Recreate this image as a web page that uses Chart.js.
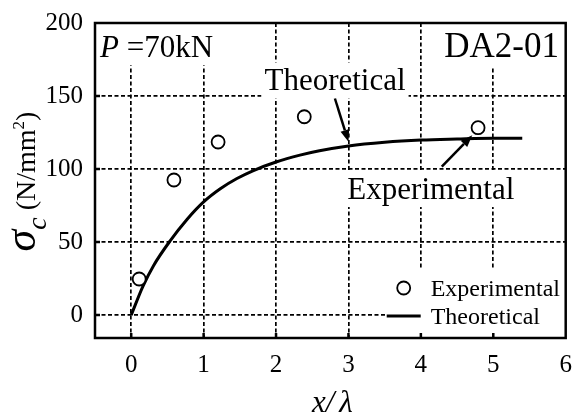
<!DOCTYPE html>
<html><head><meta charset="utf-8">
<script src="https://cdn.jsdelivr.net/npm/chart.js@4/dist/chart.umd.min.js"></script>
<style>html,body{margin:0;padding:0;background:#fff;}#wrap{width:574px;height:416px;}</style>
</head><body><div id="wrap"><canvas id="c" width="574" height="416"></canvas></div>
<script>
// ---- data ----
const expX = [0.11, 0.59, 1.2, 2.39, 4.79];
const expY = [24.7, 92.5, 118.5, 135.8, 128.3];
const theoX = [0, 0.16, 0.31, 0.54, 0.77, 1.0, 1.23, 1.46, 1.68, 2.0, 2.33, 2.6, 3.0, 3.5, 4.0, 4.5, 5.0, 5.4];
const theoY = [0, 19.5, 34, 51, 65.5, 77.5, 86.5, 93.5, 98.8, 104.8, 109.5, 112.5, 115.8, 118.3, 119.8, 120.5, 121, 121];
const xTicks = [0, 1, 2, 3, 4, 5, 6];
const yTicks = [0, 50, 100, 150, 200];
const seriesNames = ['Experimental', 'Theoretical'];
const noteP = 'P', noteLoad = ' =70kN', noteSpec = 'DA2-01';

const SERIF = '"Liberation Serif", "Times New Roman", serif';
const toPts = (xs, ys) => xs.map((x, i) => ({x, y: ys[i]}));

const notes = [
  {parts: [[noteP, 'italic'], [noteLoad, '']], x: -0.43, y: 176.5, size: 31, align: 'left', box: 'topleft'},
  {parts: [[noteSpec, '']], x: 5.906, y: 176.5, size: 35, align: 'right', box: 'topright'},
  {parts: [[seriesNames[1], '']], x: 1.84, y: 153.9, size: 31, align: 'left'},
  {parts: [[seriesNames[0], '']], x: 2.985, y: 79.5, size: 31, align: 'left'}
];
const arrows = [
  {from: [2.813, 148.3], to: [3.0, 118.6]},
  {from: [4.289, 101.6], to: [4.71, 123.2]}
];

function partsWidth(ctx, parts, size) {
  let w = 0;
  parts.forEach(([t, st]) => { ctx.font = `${st} ${size}px ${SERIF}`; w += ctx.measureText(t).width; });
  return w;
}
function drawParts(ctx, parts, x, y, size) {
  ctx.textAlign = 'left'; ctx.textBaseline = 'alphabetic';
  parts.forEach(([t, st]) => { ctx.font = `${st} ${size}px ${SERIF}`; ctx.fillText(t, x, y); x += ctx.measureText(t).width; });
}

const deco = {
  id: 'deco',
  beforeDatasetsDraw(chart) {
    const {ctx, chartArea: a, scales: {x, y}} = chart;
    ctx.save();
    ctx.fillStyle = '#fff';
    notes.forEach(n => {
      const w = partsWidth(ctx, n.parts, n.size);
      const px = x.getPixelForValue(n.x), py = y.getPixelForValue(n.y);
      let l = n.align === 'right' ? px - w : px;
      let r = l + w;
      let t = py - n.size * 0.9, b = py + n.size * 0.26;
      l -= 3; r += 3;
      if (n.box === 'topleft') { l = a.left; t = a.top; }
      if (n.box === 'topright') { r = a.right; t = a.top; }
      ctx.fillRect(l, t, r - l, b - t);
    });
    // legend background
    const lx = a.right - 135;
    ctx.fillRect(lx - 45, a.bottom - 68, a.right - (lx - 45), 68);
    ctx.restore();
  },
  afterDatasetsDraw(chart) {
    const {ctx, chartArea: a, scales: {x, y}} = chart;
    ctx.save();
    ctx.fillStyle = '#000'; ctx.strokeStyle = '#000';
    // inside ticks
    ctx.lineWidth = 2.5;
    ctx.beginPath();
    xTicks.forEach(v => { if (v < 6) { const p = x.getPixelForValue(v); ctx.moveTo(p, a.bottom); ctx.lineTo(p, a.bottom - 5); } });
    yTicks.forEach(v => { if (v < 200) { const p = y.getPixelForValue(v); ctx.moveTo(a.left, p); ctx.lineTo(a.left + 5, p); } });
    ctx.stroke();
    // frame
    ctx.lineWidth = 2.5;
    ctx.strokeRect(a.left, a.top, a.right - a.left, a.bottom - a.top);
    // notes
    notes.forEach(n => {
      const w = partsWidth(ctx, n.parts, n.size);
      const px = x.getPixelForValue(n.x), py = y.getPixelForValue(n.y);
      drawParts(ctx, n.parts, n.align === 'right' ? px - w : px, py, n.size);
    });
    // arrows
    arrows.forEach(ar => {
      const x0 = x.getPixelForValue(ar.from[0]), y0 = y.getPixelForValue(ar.from[1]);
      const x1 = x.getPixelForValue(ar.to[0]), y1 = y.getPixelForValue(ar.to[1]);
      const ang = Math.atan2(y1 - y0, x1 - x0), hl = 12, hw = 4.5;
      const bx = x1 - hl * Math.cos(ang), by = y1 - hl * Math.sin(ang);
      ctx.lineWidth = 2.5;
      ctx.beginPath(); ctx.moveTo(x0, y0); ctx.lineTo(bx, by); ctx.stroke();
      ctx.beginPath(); ctx.moveTo(x1, y1);
      ctx.lineTo(bx + hw * Math.sin(ang), by - hw * Math.cos(ang));
      ctx.lineTo(bx - hw * Math.sin(ang), by + hw * Math.cos(ang));
      ctx.closePath(); ctx.fill();
    });
    // legend
    const ds = chart.data.datasets;
    const lx = a.right - 135, r1 = a.bottom - 42, r2 = a.bottom - 14;
    ctx.lineWidth = ds[0].borderWidth; ctx.fillStyle = '#fff';
    ctx.beginPath(); ctx.arc(lx - 27, r1 - 8, ds[0].pointRadius, 0, Math.PI * 2); ctx.fill(); ctx.stroke();
    ctx.lineWidth = ds[1].borderWidth;
    ctx.beginPath(); ctx.moveTo(lx - 44, r2 - 8); ctx.lineTo(lx - 10, r2 - 8); ctx.stroke();
    ctx.fillStyle = '#000';
    drawParts(ctx, [[ds[0].label, '']], lx, r1, 24);
    drawParts(ctx, [[ds[1].label, '']], lx, r2, 24);
    // x title
    const xt1 = 'x/', xt2 = '\u03BB';
    ctx.font = `italic 31px ${SERIF}`;
    const w1 = ctx.measureText(xt1).width, w2 = ctx.measureText(xt2).width, gap = 5;
    const cx = (a.left + a.right) / 2 + 2;
    let sx = cx - (w1 + gap + w2) / 2;
    ctx.textAlign = 'left'; ctx.textBaseline = 'alphabetic';
    ctx.fillText(xt1, sx, 412); ctx.fillText(xt2, sx + w1 + gap, 412);
    // y title (rotated)
    ctx.save();
    ctx.translate(35, 181.5);
    ctx.rotate(-Math.PI / 2);
    const pieces = [
      ['\u03C3', `italic 44px ${SERIF}`, 0],
      ['c', `italic 28px ${SERIF}`, 11],
      [' (N/mm', `28px ${SERIF}`, 0],
      ['2', `17px ${SERIF}`, -11],
      [')', `28px ${SERIF}`, 0]
    ];
    let tot = 0;
    pieces.forEach(p => { ctx.font = p[1]; tot += ctx.measureText(p[0]).width; });
    let px = -tot / 2;
    pieces.forEach(p => { ctx.font = p[1]; ctx.fillText(p[0], px, p[2]); px += ctx.measureText(p[0]).width; });
    ctx.restore();
    ctx.restore();
  }
};

new Chart(document.getElementById('c'), {
  type: 'scatter',
  data: {
    datasets: [
      {label: seriesNames[0], data: toPts(expX, expY), showLine: false, pointStyle: 'circle',
       pointRadius: 6.5, pointHoverRadius: 6.5, borderWidth: 1.8, borderColor: '#000', backgroundColor: '#fff'},
      {label: seriesNames[1], data: toPts(theoX, theoY), showLine: true, pointRadius: 0, pointHoverRadius: 0,
       borderWidth: 3, borderColor: '#000', backgroundColor: '#000', cubicInterpolationMode: 'monotone'}
    ]
  },
  options: {
    responsive: false, animation: false, devicePixelRatio: 1,
    layout: {padding: {top: 23, right: 7, left: 0, bottom: 0}},
    plugins: {legend: {display: false}, tooltip: {enabled: false}},
    scales: {
      x: {
        type: 'linear', min: -0.5, max: 6,
        afterBuildTicks: s => { s.ticks = xTicks.map(v => ({value: v})); },
        afterFit: s => { s.height = 78; s.paddingLeft = 0; s.paddingRight = 0; },
        grid: {color: c => (c.tick && c.tick.value === 6) ? 'rgba(0,0,0,0)' : '#000', lineWidth: 1.7, drawTicks: false},
        border: {display: false, dash: [4, 2.5]},
        ticks: {color: '#000', font: {family: SERIF, size: 25}, padding: 12, maxRotation: 0}
      },
      y: {
        type: 'linear', min: -15.7, max: 200,
        afterBuildTicks: s => { s.ticks = yTicks.map(v => ({value: v})); },
        afterFit: s => { s.width = 95; s.paddingTop = 0; s.paddingBottom = 0; },
        grid: {color: c => (c.tick && c.tick.value === 200) ? 'rgba(0,0,0,0)' : '#000', lineWidth: 1.7, drawTicks: false},
        border: {display: false, dash: [4, 2.5]},
        ticks: {color: '#000', font: {family: SERIF, size: 25}, padding: 12}
      }
    }
  },
  plugins: [deco]
});
</script>
</body></html>
